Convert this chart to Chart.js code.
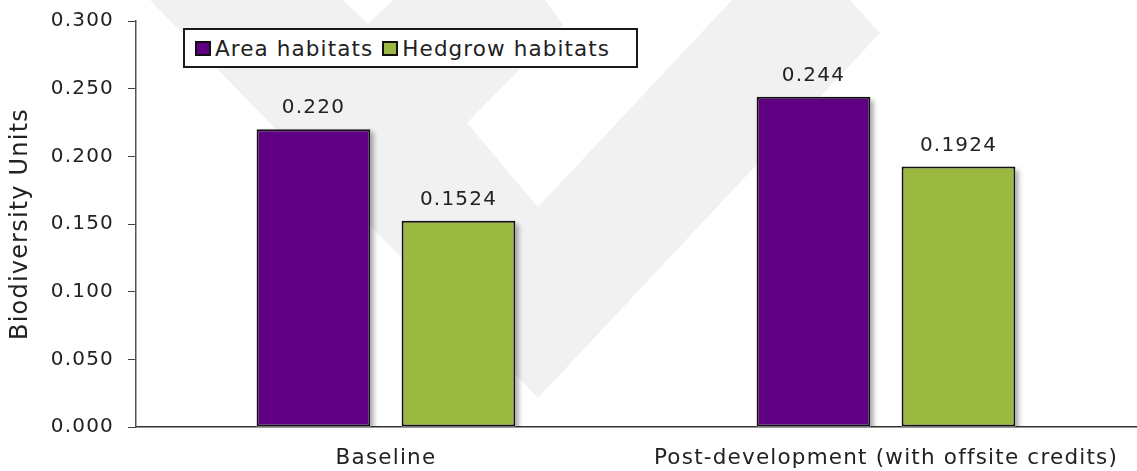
<!DOCTYPE html>
<html>
<head>
<meta charset="utf-8">
<script src="https://cdn.jsdelivr.net/npm/chart.js@4.4.1/dist/chart.umd.min.js"></script>
<style>
  body { margin: 0; background: #fff; }
  #wrap { position: relative; width: 1137px; height: 471px; }
  #legend {
    position: absolute; left: 183px; top: 28px; width: 441px; height: 36px;
    border: 2px solid #1a1a1a; background: #fff;
    font-family: "DejaVu Sans", sans-serif; font-size: 21.5px; letter-spacing: 1.1px; color: #222;
    display: flex; align-items: center; padding-left: 10px; box-sizing: content-box;
  }
  #legend span.item { display: flex; align-items: center; margin-right: 9px; }
  #legend span.sw { width: 12px; height: 11px; border: 2px solid #111; margin-right: 4px; }
</style>
</head>
<body>
<div id="wrap">
  <canvas id="chart" width="1137" height="471"></canvas>
  <div id="legend"></div>
</div>
<script>
document.addEventListener("DOMContentLoaded", () => {

    const categories = ["Baseline", "Post-development (with offsite credits)"];
    const areaHabitats = [0.220, 0.244];
    const hedgerowHabitats = [0.1524, 0.1924];
    const valueLabels = [["0.220", "0.244"], ["0.1524", "0.1924"]];
    const seriesNames = ["Area habitats", "Hedgrow habitats"];
    const colors = ["#5f0082", "#9bb941"];

    const font = "DejaVu Sans";

    // legend box inside the plot
    const legendEl = document.getElementById("legend");
    seriesNames.forEach((name, i) => {
        const item = document.createElement("span");
        item.className = "item";
        item.innerHTML = '<span class="sw" style="background:' + colors[i] + '"></span>' + name;
        legendEl.appendChild(item);
    });

    // wider lettering, closer to the original font
    const spacing = {
        id: "spacing",
        beforeDraw(chart) { chart.ctx.letterSpacing = "1.2px"; }
    };

    // grey check mark in the background
    const watermark = {
        id: "watermark",
        beforeDraw(chart) {
            const c = chart.ctx;
            const pts = [[150,0],[538,398],[880,33],[850,0],[732,0],[538,207],[467,123],[563,25],[545,0],[393,0],[368,24],[343,0]];
            c.save();
            c.fillStyle = "#f1f1f1";
            c.beginPath();
            pts.forEach((p, i) => i ? c.lineTo(p[0], p[1]) : c.moveTo(p[0], p[1]));
            c.closePath();
            c.fill();
            c.restore();
        }
    };

    const barShadow = {
        id: "barShadow",
        beforeDatasetsDraw(chart) {
            const c = chart.ctx;
            const a = chart.chartArea;
            c.save();
            c.beginPath();
            c.rect(a.left, a.top - 40, a.right - a.left, a.bottom - a.top + 40);
            c.clip();
            c.shadowColor = "rgba(0,0,0,0.35)";
            c.shadowBlur = 5;
            c.shadowOffsetX = 4;
            c.shadowOffsetY = 3;
            c.fillStyle = "#fff";
            chart.data.datasets.forEach((ds, i) => {
                chart.getDatasetMeta(i).data.forEach(bar => {
                    c.fillRect(bar.x - bar.width / 2, bar.y, bar.width, bar.base - bar.y);
                });
            });
            c.restore();
        }
    };

    const valueText = {
        id: "valueText",
        afterDatasetsDraw(chart) {
            const c = chart.ctx;
            c.save();
            c.font = "20px '" + font + "'";
            c.fillStyle = "#222";
            c.textAlign = "center";
            c.textBaseline = "alphabetic";
            chart.data.datasets.forEach((ds, i) => {
                chart.getDatasetMeta(i).data.forEach((bar, j) => {
                    c.fillText(valueLabels[i][j], bar.x, bar.y - 16);
                });
            });
            c.restore();
        }
    };

    new Chart(document.getElementById("chart"), {
        type: "bar",
        data: {
            labels: categories,
            datasets: [
                {
                    label: seriesNames[0],
                    data: areaHabitats,
                    backgroundColor: colors[0],
                    borderColor: "#111",
                    borderWidth: 2,
                    borderSkipped: false
                },
                {
                    label: seriesNames[1],
                    data: hedgerowHabitats,
                    backgroundColor: colors[1],
                    borderColor: "#111",
                    borderWidth: 2,
                    borderSkipped: false
                }
            ]
        },
        options: {
            responsive: false,
            animation: false,
            categoryPercentage: 0.58,
            barPercentage: 0.785,
            layout: { padding: { top: 21, right: 1, left: 0, bottom: 0 } },
            plugins: {
                legend: { display: false },
                tooltip: { enabled: false }
            },
            scales: {
                x: {
                    grid: { display: false },
                    border: { display: true, color: "#333", width: 1.5 },
                    ticks: { color: "#222", font: { family: font, size: 21.5 }, padding: 11, maxRotation: 0 },
                    afterFit: s => { s.height = 44; }
                },
                y: {
                    min: 0,
                    max: 0.3,
                    grid: { drawOnChartArea: false, drawTicks: true, tickLength: 8, color: "#444" },
                    border: { display: true, color: "#555", width: 1.5 },
                    ticks: {
                        stepSize: 0.05,
                        color: "#222",
                        padding: 14,
                        font: { family: font, size: 20, lineHeight: 0.5 },
                        callback: v => v.toFixed(3)
                    },
                    title: {
                        display: true,
                        text: "Biodiversity Units",
                        color: "#222",
                        font: { family: font, size: 24 },
                        padding: { top: 6, bottom: 0 }
                    },
                    afterFit: s => { s.width = 136; }
                }
            }
        },
        plugins: [spacing, watermark, barShadow, valueText]
    });

});
</script>
</body>
</html>
